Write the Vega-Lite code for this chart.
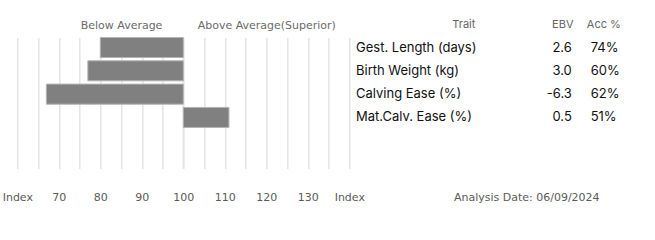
{
  "$schema": "https://vega.github.io/schema/vega-lite/v6.json",
  "background": "white",
  "padding": {"left": 1.3, "top": 17.5, "right": 0, "bottom": 0},
  "config": {
    "locale": {"number": {"decimal": ".", "thousands": ",", "grouping": [3], "currency": ["$", ""], "minus": "-", "percent": "%"}},
    "view": {"stroke": null},
    "axis": {"labelFont": "DejaVu Sans", "labelFontSize": 11, "labelColor": "#5a5a5a", "labelAngle": 0, "domain": false, "ticks": false, "tickSize": 0, "title": null, "labelOverlap": false, "labelFlush": false}
  },
  "datasets": {
    "traits": [
      {"trait": "Gest. Length (days)", "index": 80, "ebv": 2.6, "acc": 0.74},
      {"trait": "Birth Weight (kg)", "index": 77, "ebv": 3.0, "acc": 0.60},
      {"trait": "Calving Ease (%)", "index": 67, "ebv": -6.3, "acc": 0.62},
      {"trait": "Mat.Calv. Ease (%)", "index": 111, "ebv": 0.5, "acc": 0.51}
    ]
  },
  "bounds": "flush",
  "spacing": 0,
  "hconcat": [
    {
      "width": 332,
      "height": 131,
      "layer": [
        {
          "data": {"values": [{"label": "Average", "index": 100}]},
          "mark": {"type": "rule", "color": "#e4e4e4", "strokeWidth": 1.5},
          "encoding": {
            "x": {
              "field": "index", "type": "quantitative",
              "scale": {"domain": [60, 140], "nice": false, "zero": false},
              "axis": {
                "orient": "bottom",
                "values": [60, 65, 70, 75, 80, 85, 90, 95, 100, 105, 110, 115, 120, 125, 130, 135, 140],
                "grid": true, "gridColor": "#e4e4e4", "gridWidth": 1.5,
                "labelPadding": 29, "labelBaseline": "middle",
                "labelExpr": "datum.value == 60 || datum.value == 140 ? 'Index' : (datum.value % 10 == 0 ? datum.label : '')"
              }
            }
          }
        },
        {
          "data": {"name": "traits"},
          "mark": {"type": "bar", "color": "#808080", "stroke": "#b4b4b4", "strokeWidth": 1},
          "encoding": {
            "y": {"field": "trait", "type": "nominal", "sort": null, "scale": {"type": "band", "paddingInner": 0.14, "paddingOuter": 0.88, "align": 0}, "axis": null},
            "x": {
              "field": "index", "type": "quantitative",
              "scale": {"domain": [60, 140], "nice": false, "zero": false},
              "axis": {
                "orient": "top", "values": [85, 120], "grid": false,
                "labelPadding": 12.5, "labelBaseline": "middle", "labelColor": "#6a6a6a",
                "labelExpr": "datum.value < 100 ? 'Below Average' : 'Above Average(Superior)'"
              }
            },
            "x2": {"datum": 100}
          }
        }
      ],
      "resolve": {"axis": {"x": "independent"}}
    },
    {
      "width": 193,
      "height": 131,
      "data": {"name": "traits"},
      "title": {"text": "Analysis Date: 06/09/2024", "orient": "bottom", "anchor": "middle", "dx": 81, "offset": 24, "font": "DejaVu Sans", "fontSize": 11, "fontWeight": "normal", "color": "#5a5a5a"},
      "mark": {"type": "text", "align": "left", "baseline": "middle", "font": "Inter", "fontSize": 13, "color": "#111111"},
      "encoding": {
        "y": {"field": "trait", "type": "nominal", "sort": null, "scale": {"type": "band", "paddingInner": 0.14, "paddingOuter": 0.88, "align": 0}, "axis": null},
        "x": {
          "datum": "Trait", "type": "nominal", "bandPosition": 0.035,
          "scale": {"type": "band", "paddingInner": 0, "paddingOuter": 0},
          "axis": {"orient": "top", "labelOffset": 18, "labelPadding": 13.5, "labelBaseline": "middle", "labelFont": "Inter", "labelFontSize": 11, "labelColor": "#666666"}
        },
        "text": {"field": "trait", "type": "nominal"}
      }
    },
    {
      "width": 82,
      "height": 131,
      "data": {"name": "traits"},
      "encoding": {
        "y": {"field": "trait", "type": "nominal", "sort": null, "scale": {"type": "band", "paddingInner": 0.14, "paddingOuter": 0.88, "align": 0}, "axis": null}
      },
      "layer": [
        {
          "mark": {"type": "text", "align": "right", "baseline": "middle", "font": "Inter", "fontSize": 13, "color": "#111111"},
          "encoding": {
            "x": {
              "datum": "EBV", "type": "nominal", "bandPosition": 0.72,
              "scale": {"type": "band", "domain": ["EBV", "Acc %"], "paddingInner": 0, "paddingOuter": 0},
              "axis": {"orient": "top", "labelPadding": 13.5, "labelBaseline": "middle", "labelFont": "Inter", "labelFontSize": 11, "labelColor": "#666666"}
            },
            "text": {"field": "ebv", "type": "quantitative", "format": ".1f"}
          }
        },
        {
          "mark": {"type": "text", "align": "left", "baseline": "middle", "font": "Inter", "fontSize": 13, "color": "#111111"},
          "encoding": {
            "x": {"datum": "Acc %", "type": "nominal", "bandPosition": 0.18},
            "text": {"field": "acc", "type": "quantitative", "format": ".0%"}
          }
        }
      ]
    }
  ]
}
